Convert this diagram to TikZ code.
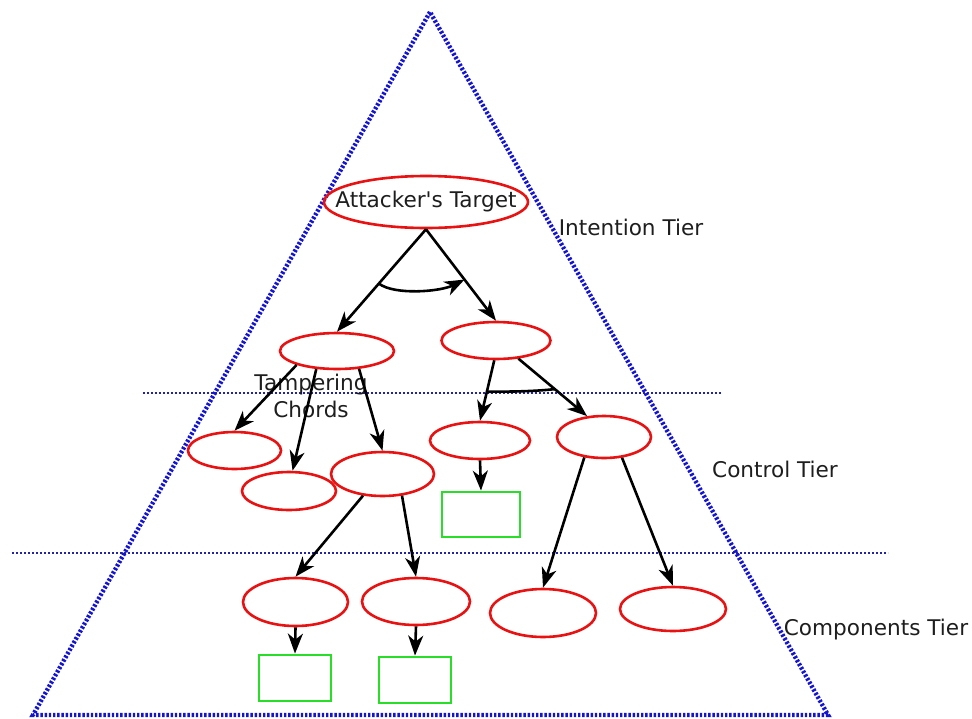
\documentclass[tikz,border=0pt]{standalone}
\usepackage{fontspec}
\setmainfont{DejaVu Sans}
\usetikzlibrary{shapes.geometric,arrows.meta,calc}
\definecolor{triblue}{RGB}{20,20,210}
\definecolor{tierblue}{RGB}{35,35,165}
\definecolor{ellred}{RGB}{232,18,18}
\definecolor{boxgreen}{RGB}{40,222,40}
\definecolor{txt}{RGB}{30,30,30}
\tikzset{
  ell/.style={ellipse,draw=ellred,line width=2.6pt,inner sep=0pt},
  gbox/.style={rectangle,draw=boxgreen,line width=2.8pt,inner sep=0pt},
  arr/.style={draw=black,line width=2.6pt,-{Stealth[length=20pt,width=15pt,inset=6pt]}},
  arcline/.style={draw=black,line width=2.6pt},
  tri/.style={draw=triblue,line width=4.4pt,dash pattern=on 2.4pt off 1.8pt},
  tierline/.style={draw=tierblue,line width=2.6pt,dash pattern=on 2.2pt off 1.8pt},
  lbl/.style={font=\fontsize{21.6}{27}\selectfont,text=txt,inner sep=0pt}
}
\begin{document}
\begin{tikzpicture}[x=1pt,y=-1pt]
\useasboundingbox (0,0) rectangle (972,718);
\fill[white] (0,0) rectangle (972,718);
% triangle and tier lines
\coordinate (apex) at (430,12);
\coordinate (bl) at (33,715);
\coordinate (br) at (828,715);
\coordinate (h1a) at (143,393);
\coordinate (h1b) at (722,393);
\coordinate (h2a) at (12,553);
\coordinate (h2b) at (888,553);
\draw[tierline] (h1a) -- (h1b);
\draw[tierline] (h2a) -- (h2b);
\draw[tri] (apex) -- (bl) -- (br) -- cycle;
% nodes
\node[ell,minimum width=204pt,minimum height=52pt] (t) at (426,202) {};
\node[lbl] (tl) at (t.center) {Attacker\textquotesingle s Target};
\node[ell,minimum width=114pt,minimum height=36pt] (e1) at (337,351) {};
\node[ell,minimum width=109pt,minimum height=37pt] (e2) at (496,340.5) {};
\node[ell,minimum width=93pt,minimum height=37pt] (e3) at (234.5,450.5) {};
\node[ell,minimum width=94pt,minimum height=38pt] (e4) at (289,491) {};
\node[ell,minimum width=103pt,minimum height=44pt] (e5) at (382.5,474) {};
\node[ell,minimum width=100pt,minimum height=37pt] (e6) at (480,440.5) {};
\node[ell,minimum width=94pt,minimum height=42pt] (e7) at (604,437) {};
\node[ell,minimum width=105pt,minimum height=48pt] (e8) at (295.5,602) {};
\node[ell,minimum width=108pt,minimum height=47pt] (e9) at (416,601.5) {};
\node[ell,minimum width=106pt,minimum height=48pt] (e10) at (543,613) {};
\node[ell,minimum width=106pt,minimum height=44pt] (e11) at (673,609) {};
\node[gbox,minimum width=78pt,minimum height=45pt] (r1) at (481,514.5) {};
\node[gbox,minimum width=72pt,minimum height=46pt] (r2) at (295,678) {};
\node[gbox,minimum width=72pt,minimum height=46pt] (r3) at (415,680) {};
% labels
\node[lbl] (l1) at (631,227) {Intention Tier};
\node[lbl] (l2) at (775,469) {Control Tier};
\node[lbl] (l3) at (876,630) {Components Tier};
\node[lbl,align=center] (l4) at (311,396) {Tampering\\Chords};
% connectors
\draw[arr] (t.south) -- (e1.north);
\draw[arr] (t.south) -- (e2.north);
\draw[arr] (e1.199) -- (e3.north);
\draw[arr] (e1.221) -- (e4.80);
\draw[arr] (e1.321) -- (e5.north);
\draw[arr] (e2.265) -- (e6.north);
\draw[arr] (e2.321) -- (e7.129);
\draw[arr] (e5.228) -- (e8.north);
\draw[arr] (e5.312) -- (e9.north);
\draw[arr] (e7.226) -- (e10.north);
\draw[arr] (e7.311) -- (e11.north);
\draw[arr] (e6.south) -- (r1.north);
\draw[arr] (e8.south) -- (r2.north);
\draw[arr] (e9.south) -- (r3.north);
% arcs
\coordinate (a1) at ($(t.south)!0.53!(e1.north)$);
\coordinate (a2) at ($(t.south)!0.55!(e2.north)$);
\draw[arr] (a1) .. controls ($(a1)+(16,12)$) and ($(a2)+(-24,12)$) .. (a2);
\coordinate (a3) at ($(e2.265)!0.52!(e6.north)$);
\coordinate (a4) at ($(e2.321)!0.53!(e7.129)$);
\draw[arcline] (a3) .. controls ($(a3)+(30,0)$) and ($(a4)+(-18,2)$) .. (a4);
\end{tikzpicture}
\end{document}
